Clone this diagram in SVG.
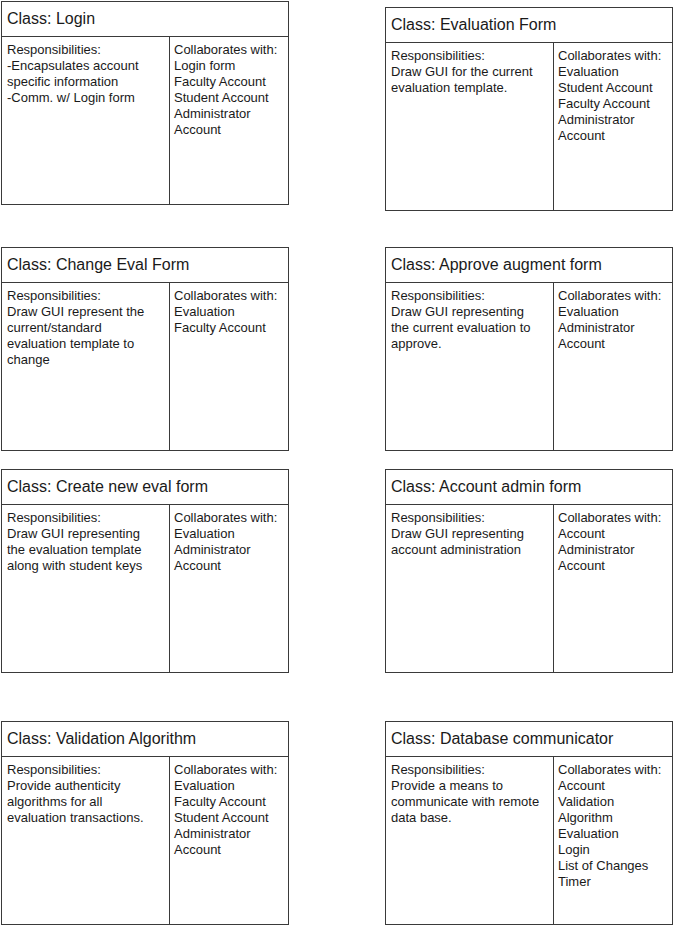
<svg xmlns="http://www.w3.org/2000/svg" width="674" height="926" viewBox="0 0 674 926">
<style>
.box{fill:#ffffff;stroke:#3a3a3a;stroke-width:1}
.ln{stroke:#3a3a3a;stroke-width:1;fill:none}
.t{font-family:"Liberation Sans",Arial,sans-serif;font-size:16px;fill:#1a1a1a}
.b{font-family:"Liberation Sans",Arial,sans-serif;font-size:13px;fill:#1a1a1a}
</style>
<rect x="0" y="0" width="674" height="926" fill="#ffffff"/>

<g id="login">
<rect class="box" x="1.5" y="1.5" width="287" height="203"/>
<line class="ln" x1="1.5" y1="36.5" x2="288.5" y2="36.5"/>
<line class="ln" x1="169.5" y1="36.5" x2="169.5" y2="204.5"/>
<text class="t" x="7" y="24">Class: Login</text>
<text class="b" x="7" y="54"><tspan x="7">Responsibilities:</tspan><tspan x="7" dy="16">-Encapsulates account</tspan><tspan x="7" dy="16">specific information</tspan><tspan x="7" dy="16">-Comm. w/ Login form</tspan></text>
<text class="b" x="174" y="54"><tspan x="174">Collaborates with:</tspan><tspan x="174" dy="16">Login form</tspan><tspan x="174" dy="16">Faculty Account</tspan><tspan x="174" dy="16">Student Account</tspan><tspan x="174" dy="16">Administrator</tspan><tspan x="174" dy="16">Account</tspan></text>
</g>

<g id="evaluation-form">
<rect class="box" x="385.5" y="7.5" width="287" height="203"/>
<line class="ln" x1="385.5" y1="42.5" x2="672.5" y2="42.5"/>
<line class="ln" x1="553.5" y1="42.5" x2="553.5" y2="210.5"/>
<text class="t" x="391" y="30">Class: Evaluation Form</text>
<text class="b" x="391" y="60"><tspan x="391">Responsibilities:</tspan><tspan x="391" dy="16">Draw GUI for the current</tspan><tspan x="391" dy="16">evaluation template.</tspan></text>
<text class="b" x="558" y="60"><tspan x="558">Collaborates with:</tspan><tspan x="558" dy="16">Evaluation</tspan><tspan x="558" dy="16">Student Account</tspan><tspan x="558" dy="16">Faculty Account</tspan><tspan x="558" dy="16">Administrator</tspan><tspan x="558" dy="16">Account</tspan></text>
</g>

<g id="change-eval-form">
<rect class="box" x="1.5" y="247.5" width="287" height="203"/>
<line class="ln" x1="1.5" y1="282.5" x2="288.5" y2="282.5"/>
<line class="ln" x1="169.5" y1="282.5" x2="169.5" y2="450.5"/>
<text class="t" x="7" y="270">Class: Change Eval Form</text>
<text class="b" x="7" y="300"><tspan x="7">Responsibilities:</tspan><tspan x="7" dy="16">Draw GUI represent the</tspan><tspan x="7" dy="16">current/standard</tspan><tspan x="7" dy="16">evaluation template to</tspan><tspan x="7" dy="16">change</tspan></text>
<text class="b" x="174" y="300"><tspan x="174">Collaborates with:</tspan><tspan x="174" dy="16">Evaluation</tspan><tspan x="174" dy="16">Faculty Account</tspan></text>
</g>

<g id="approve-augment-form">
<rect class="box" x="385.5" y="247.5" width="287" height="203"/>
<line class="ln" x1="385.5" y1="282.5" x2="672.5" y2="282.5"/>
<line class="ln" x1="553.5" y1="282.5" x2="553.5" y2="450.5"/>
<text class="t" x="391" y="270">Class: Approve augment form</text>
<text class="b" x="391" y="300"><tspan x="391">Responsibilities:</tspan><tspan x="391" dy="16">Draw GUI representing</tspan><tspan x="391" dy="16">the current evaluation to</tspan><tspan x="391" dy="16">approve.</tspan></text>
<text class="b" x="558" y="300"><tspan x="558">Collaborates with:</tspan><tspan x="558" dy="16">Evaluation</tspan><tspan x="558" dy="16">Administrator</tspan><tspan x="558" dy="16">Account</tspan></text>
</g>

<g id="create-new-eval-form">
<rect class="box" x="1.5" y="469.5" width="287" height="203"/>
<line class="ln" x1="1.5" y1="504.5" x2="288.5" y2="504.5"/>
<line class="ln" x1="169.5" y1="504.5" x2="169.5" y2="672.5"/>
<text class="t" x="7" y="492">Class: Create new eval form</text>
<text class="b" x="7" y="522"><tspan x="7">Responsibilities:</tspan><tspan x="7" dy="16">Draw GUI representing</tspan><tspan x="7" dy="16">the evaluation template</tspan><tspan x="7" dy="16">along with student keys</tspan></text>
<text class="b" x="174" y="522"><tspan x="174">Collaborates with:</tspan><tspan x="174" dy="16">Evaluation</tspan><tspan x="174" dy="16">Administrator</tspan><tspan x="174" dy="16">Account</tspan></text>
</g>

<g id="account-admin-form">
<rect class="box" x="385.5" y="469.5" width="287" height="203"/>
<line class="ln" x1="385.5" y1="504.5" x2="672.5" y2="504.5"/>
<line class="ln" x1="553.5" y1="504.5" x2="553.5" y2="672.5"/>
<text class="t" x="391" y="492">Class: Account admin form</text>
<text class="b" x="391" y="522"><tspan x="391">Responsibilities:</tspan><tspan x="391" dy="16">Draw GUI representing</tspan><tspan x="391" dy="16">account administration</tspan></text>
<text class="b" x="558" y="522"><tspan x="558">Collaborates with:</tspan><tspan x="558" dy="16">Account</tspan><tspan x="558" dy="16">Administrator</tspan><tspan x="558" dy="16">Account</tspan></text>
</g>

<g id="validation-algorithm">
<rect class="box" x="1.5" y="721.5" width="287" height="203"/>
<line class="ln" x1="1.5" y1="756.5" x2="288.5" y2="756.5"/>
<line class="ln" x1="169.5" y1="756.5" x2="169.5" y2="924.5"/>
<text class="t" x="7" y="744">Class: Validation Algorithm</text>
<text class="b" x="7" y="774"><tspan x="7">Responsibilities:</tspan><tspan x="7" dy="16">Provide authenticity</tspan><tspan x="7" dy="16">algorithms for all</tspan><tspan x="7" dy="16">evaluation transactions.</tspan></text>
<text class="b" x="174" y="774"><tspan x="174">Collaborates with:</tspan><tspan x="174" dy="16">Evaluation</tspan><tspan x="174" dy="16">Faculty Account</tspan><tspan x="174" dy="16">Student Account</tspan><tspan x="174" dy="16">Administrator</tspan><tspan x="174" dy="16">Account</tspan></text>
</g>

<g id="database-communicator">
<rect class="box" x="385.5" y="721.5" width="287" height="203"/>
<line class="ln" x1="385.5" y1="756.5" x2="672.5" y2="756.5"/>
<line class="ln" x1="553.5" y1="756.5" x2="553.5" y2="924.5"/>
<text class="t" x="391" y="744">Class: Database communicator</text>
<text class="b" x="391" y="774"><tspan x="391">Responsibilities:</tspan><tspan x="391" dy="16">Provide a means to</tspan><tspan x="391" dy="16">communicate with remote</tspan><tspan x="391" dy="16">data base.</tspan></text>
<text class="b" x="558" y="774"><tspan x="558">Collaborates with:</tspan><tspan x="558" dy="16">Account</tspan><tspan x="558" dy="16">Validation</tspan><tspan x="558" dy="16">Algorithm</tspan><tspan x="558" dy="16">Evaluation</tspan><tspan x="558" dy="16">Login</tspan><tspan x="558" dy="16">List of Changes</tspan><tspan x="558" dy="16">Timer</tspan></text>
</g>

<g id="connectors"></g>
</svg>
